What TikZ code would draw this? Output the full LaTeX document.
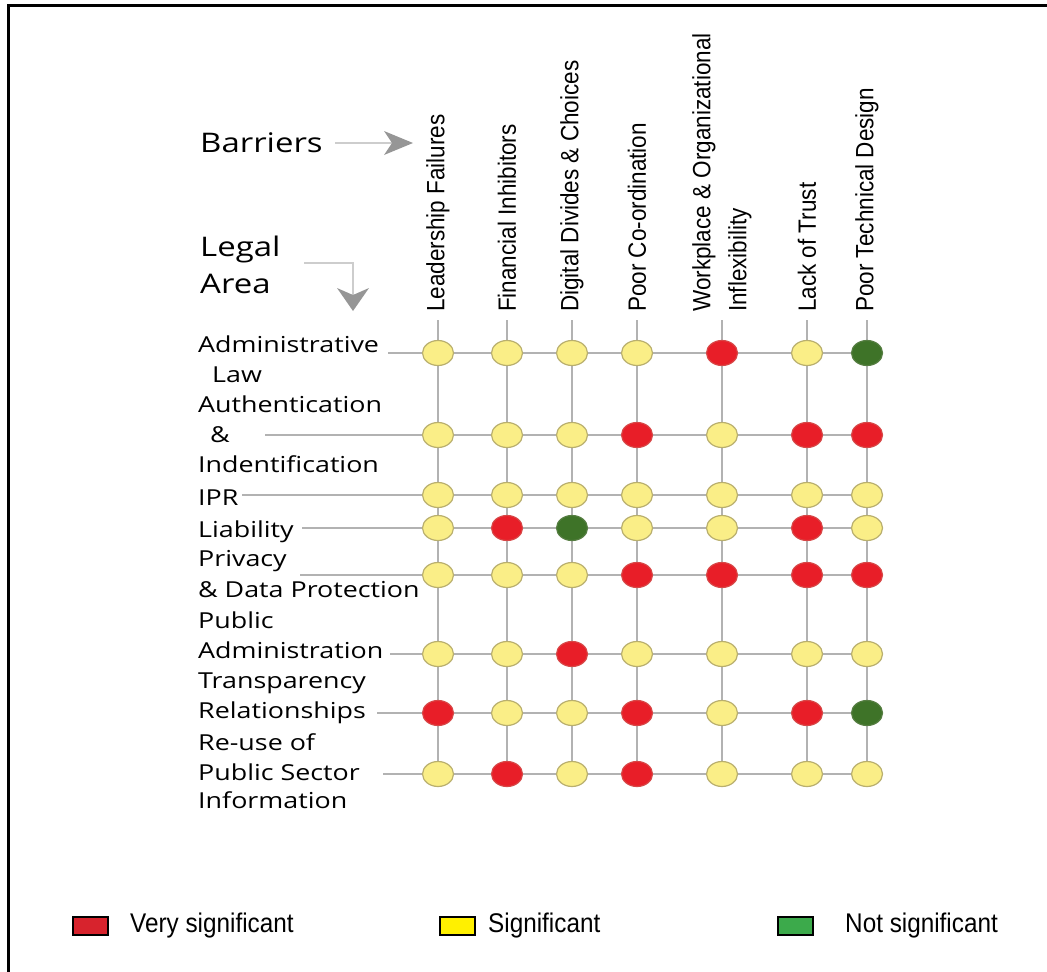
\documentclass[tikz,border=0pt]{standalone}
\usepackage{fontspec}
\setmainfont{Liberation Sans}
\newfontfamily\hdrfont[FakeStretch=0.9]{Liberation Sans}
\newfontfamily\lblfont[FakeStretch=1.22]{Open Sans}
\newfontfamily\legfont[FakeStretch=0.9]{Liberation Sans}
\usetikzlibrary{shapes.geometric,backgrounds}
\definecolor{gridgray}{RGB}{178,178,178}
\definecolor{arrgray}{RGB}{150,150,150}
\definecolor{arrline}{RGB}{205,205,205}
\definecolor{colY}{RGB}{250,238,135}
\definecolor{colYb}{RGB}{185,175,110}
\definecolor{colR}{RGB}{232,30,40}
\definecolor{colRb}{RGB}{215,70,70}
\definecolor{colG}{RGB}{62,115,40}
\definecolor{colGb}{RGB}{85,125,65}
\definecolor{legR}{RGB}{215,35,45}
\definecolor{legY}{RGB}{255,240,0}
\definecolor{legG}{RGB}{60,170,75}
\tikzset{
  gridline/.style={draw=gridgray, line width=1.8pt},
  dot/.style={ellipse, minimum width=31pt, minimum height=25pt, inner sep=0pt, line width=1.2pt},
  dotY/.style={dot, fill=colY, draw=colYb},
  dotR/.style={dot, fill=colR, draw=colRb},
  dotG/.style={dot, fill=colG, draw=colGb},
  hdr/.style={rotate=90, anchor=west, inner sep=0pt, align=left, font=\hdrfont\fontsize{25}{36}\selectfont},
  lbl/.style={anchor=base west, inner sep=0pt, font=\lblfont\fontsize{22}{26}\selectfont},
  big/.style={anchor=base west, inner sep=0pt, font=\lblfont\fontsize{27}{32}\selectfont},
  legbox/.style={draw=black, line width=1.8pt, minimum width=35pt, minimum height=18pt, inner sep=0pt},
  legtxt/.style={anchor=west, inner sep=0pt, font=\legfont\fontsize{27}{30}\selectfont},
  arrow line/.style={draw=arrline, line width=1.2pt},
}
\begin{document}
\begin{tikzpicture}[x=1pt,y=-1pt]
\useasboundingbox (0,0) rectangle (1047,972);
% frame
\draw[line width=3pt] (8,972) -- (8,5) -- (1047,5);

% titles
\node[big] (bar) at (200,152) {Barriers};
\node[big] (legal1) at (200,256) {Legal};
\node[big] (legal2) at (200,293) {Area};
\coordinate (barA) at (335,143);
\coordinate (barB) at (392,143);
\draw[arrow line] (barA) -- (barB);
\fill[arrgray] (384,131) -- (413,143) -- (384,155) -- (392,143) -- cycle;
\coordinate (lgA) at (304,263);
\coordinate (lgB) at (353,295);
\draw[arrow line] (lgA) -| (lgB);
\fill[arrgray] (337,288) -- (353,311) -- (369,288) -- (353,295) -- cycle;

% column headers
\node[hdr] (h1) at (438,312) {Leadership Failures};
\node[hdr] (h2) at (507,312) {Financial Inhibitors};
\node[hdr] (h3) at (572,312) {Digital Divides \& Choices};
\node[hdr] (h4) at (637,312) {Poor Co-ordination};
\node[hdr] (h5) at (722,312) {Workplace \& Organizational\\Inflexibility};
\node[hdr] (h6) at (807,312) {Lack of Trust};
\node[hdr] (h7) at (867,312) {Poor Technical Design};

% row labels
\node[lbl] (l1a) at (198,352) {Administrative};
\node[lbl] (l1b) at (212,382) {Law};
\node[lbl] (l2a) at (198,412) {Authentication};
\node[lbl] (l2b) at (210,442) {\&};
\node[lbl] (l2c) at (198,472) {Indentification};
\node[lbl] (l3) at (198,505) {IPR};
\node[lbl] (l4) at (198,537) {Liability};
\node[lbl] (l5a) at (198,566) {Privacy};
\node[lbl] (l5b) at (198,597) {\& Data Protection};
\node[lbl] (l6a) at (198,628) {Public};
\node[lbl] (l6b) at (198,658) {Administration};
\node[lbl] (l7a) at (198,688) {Transparency};
\node[lbl] (l7b) at (198,718) {Relationships};
\node[lbl] (l8a) at (198,750) {Re-use of};
\node[lbl] (l8b) at (198,780) {Public Sector};
\node[lbl] (l8c) at (198,808) {Information};

% row starts and column tops
\foreach \r/\sx/\y in {1/388/353,2/265/435,3/242/495,4/302/528,5/300/575,6/390/654,7/377/713,8/383/774}
  \coordinate (s\r) at (\sx,\y);
\foreach \c/\x in {1/438,2/507,3/572,4/637,5/722,6/807,7/867}
  \coordinate (t\c) at (\x,320);

% dots
\foreach \r/\y/\vals in {
  1/353/{Y,Y,Y,Y,R,Y,G},
  2/435/{Y,Y,Y,R,Y,R,R},
  3/495/{Y,Y,Y,Y,Y,Y,Y},
  4/528/{Y,R,G,Y,Y,R,Y},
  5/575/{Y,Y,Y,R,R,R,R},
  6/654/{Y,Y,R,Y,Y,Y,Y},
  7/713/{R,Y,Y,R,Y,R,G},
  8/774/{Y,R,Y,R,Y,Y,Y}} {
  \foreach \v [count=\c] in \vals {
    \pgfmathsetmacro{\xx}{{438,507,572,637,722,807,867}[\c-1]}
    \node[dot\v] (e\r-\c) at (\xx,\y) {};
  }
}

% grid lines
\begin{scope}[on background layer]
  \foreach \r in {1,...,8} \draw[gridline] (s\r) -- (e\r-7.center);
  \foreach \c in {1,...,7} \draw[gridline] (t\c) -- (e8-\c.center);
\end{scope}

% legend
\node[legbox, fill=legR] (k1) at (90.5,926) {};
\node[legtxt] (k1t) at (130,926) {Very significant};
\node[legbox, fill=legY] (k2) at (457.5,926) {};
\node[legtxt] (k2t) at (488,926) {Significant};
\node[legbox, fill=legG] (k3) at (795.5,926) {};
\node[legtxt] (k3t) at (845,926) {Not significant};
\end{tikzpicture}
\end{document}
